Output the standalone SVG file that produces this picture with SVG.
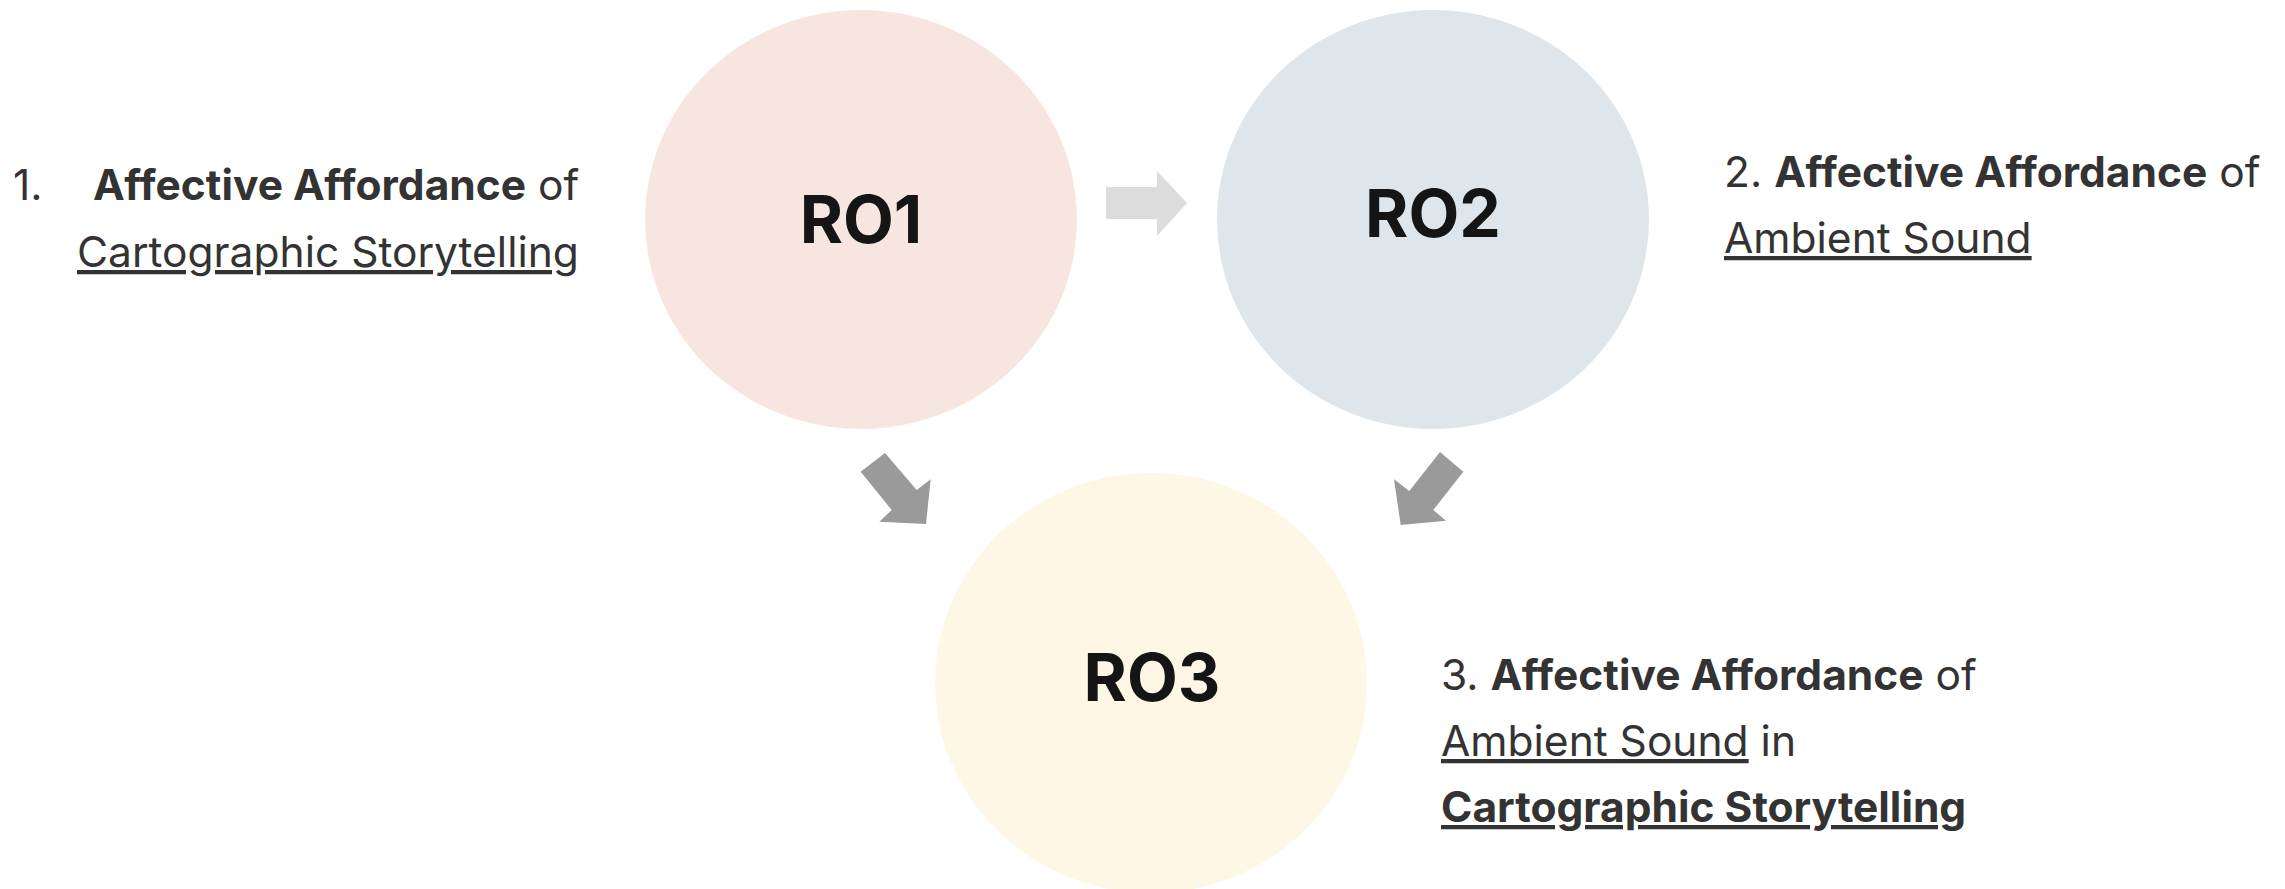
<svg xmlns="http://www.w3.org/2000/svg" width="2285" height="889" viewBox="0 0 2285 889">
  <style>
    .ro { font-family: Inter, "Liberation Sans", sans-serif; font-weight: 700; font-size: 66px; fill: #151515; text-anchor: middle; }
    .lbl { font-family: Inter, "Liberation Sans", sans-serif; font-size: 42.5px; fill: #333333; }
    .b { font-weight: 700; }
    .u { text-decoration: underline; }
    .arrow-main { fill: #9a9a9a; }
    .arrow-light { fill: #dcdcdc; }
  </style>
  <rect width="2285" height="889" fill="#ffffff"/>

  <!-- research objectives -->
  <g id="ro1">
    <ellipse cx="861" cy="219.5" rx="216" ry="209.5" fill="#f7e6e0"/>
    <text class="ro" x="861" y="243">RO1</text>
  </g>
  <g id="ro2">
    <ellipse cx="1433" cy="219.5" rx="216" ry="209.5" fill="#dee6eb"/>
    <text class="ro" x="1433" y="237">RO2</text>
  </g>
  <g id="ro3">
    <ellipse cx="1151" cy="683" rx="216" ry="210" fill="#fff7e6"/>
    <text class="ro" x="1152" y="701">RO3</text>
  </g>

  <!-- descriptions -->
  <g id="label1">
    <text class="lbl" x="13" y="200">1.</text>
    <text class="lbl" x="93" y="200"><tspan class="b">Affective Affordance</tspan> of</text>
    <text class="lbl" x="77" y="267"><tspan class="u">Cartographic Storytelling</tspan></text>
  </g>
  <g id="label2">
    <text class="lbl" x="1724" y="187">2. <tspan class="b">Affective Affordance</tspan> of</text>
    <text class="lbl" x="1724" y="253"><tspan class="u">Ambient Sound</tspan></text>
  </g>
  <g id="label3">
    <text class="lbl" x="1441" y="690">3. <tspan class="b">Affective Affordance</tspan> of</text>
    <text class="lbl" x="1441" y="756"><tspan class="u">Ambient Sound</tspan> in</text>
    <text class="lbl" x="1441" y="822"><tspan class="b u">Cartographic Storytelling</tspan></text>
  </g>

  <!-- connectors -->
  <g id="connectors">
    <polygon class="arrow-light" points="1106,187 1157,187 1157,171 1187,203 1157,236 1157,219 1106,219"/>
    <polygon class="arrow-main" points="885,453 916.7,490 930.7,479.3 926,524 879.3,521.7 891.7,510 860.7,471.7"/>
    <polygon class="arrow-main" points="1440,452 1463.3,471.7 1433.3,510 1446,520.7 1400.7,525 1394,479.3 1409.3,491"/>
  </g>
</svg>
